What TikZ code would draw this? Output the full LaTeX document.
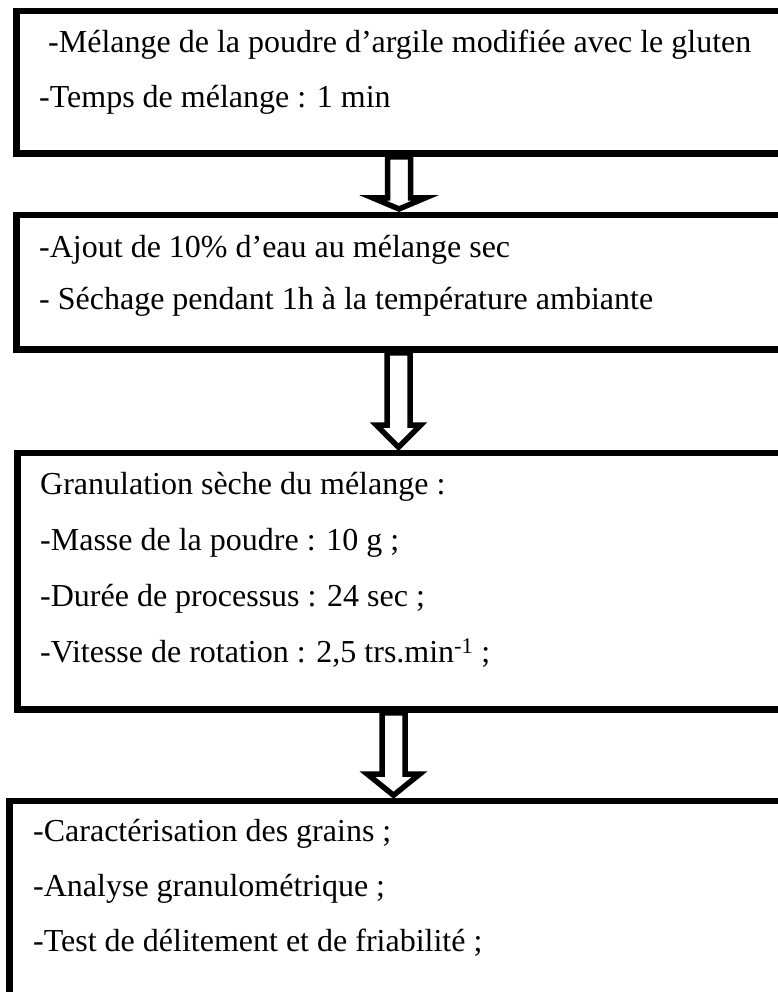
\documentclass[tikz,border=0pt]{standalone}
\usepackage{fontspec}
\setmainfont{Liberation Serif}
\usetikzlibrary{calc}

% hollow block arrow: from, to, x, head half width, head length
\newcommand{\flowarrow}[5]{%
\draw[hollow] let \p1=(#1.south), \p2=(#2.north) in
  (#3-11.5,\y1-3.25) -- (#3-11.5,\y2+6+#5) -- (#3-#4,\y2+6+#5) -- (#3,\y2+6)
  -- (#3+#4,\y2+6+#5) -- (#3+11.5,\y2+6+#5) -- (#3+11.5,\y1-3.25) -- cycle;
}

\begin{document}
\begin{tikzpicture}[
x=1pt, y=1pt,
frame/.style={rectangle, draw, line width=6.5pt, outer sep=0pt, inner sep=0pt, anchor=north west},
lines/.style={anchor=base west, align=left, inner sep=0pt, font=\fontsize{32}{#1}\selectfont},
hollow/.style={draw, fill=white, line width=5.5pt},
]
\useasboundingbox (0,0) rectangle (778,992);
\clip (0,0) rectangle (778,992);

\node[frame, minimum width=764.75pt, minimum height=142.5pt] (b1) at (16.25,980.75) {};
\node[frame, minimum width=764.75pt, minimum height=134.75pt] (b2) at (16.25,777) {};
\node[frame, minimum width=763.75pt, minimum height=256.5pt] (b3) at (17.25,538.75) {};
\node[frame, minimum width=771.75pt, minimum height=220pt] (b4) at (9.25,190.75) {};

% base anchor = last line
\node[lines=55pt] (t1) at (39,884) {\hspace*{9pt}-Mélange de la poudre d’argile modifiée avec le gluten\\
-Temps de mélange : 1 min};
\node[lines=52pt] (t2) at (39,682) {-Ajout de 10\% d’eau au mélange sec\\
- Séchage pendant 1h à la température ambiante};
\node[lines=56pt] (t3) at (40,329) {Granulation sèche du mélange :\\
-Masse de la poudre : 10 g ;\\
-Durée de processus : 24 sec ;\\
-Vitesse de rotation : 2,5 trs.min\textsuperscript{-1} ;};
\node[lines=55pt] (t4) at (33,40) {-Caractérisation des grains ;\\
-Analyse granulométrique ;\\
-Test de délitement et de friabilité ;};

\flowarrow{b1}{b2}{399}{26}{11}
\flowarrow{b2}{b3}{398.5}{22}{22}
\flowarrow{b3}{b4}{393.5}{26}{21}
\end{tikzpicture}
\end{document}
